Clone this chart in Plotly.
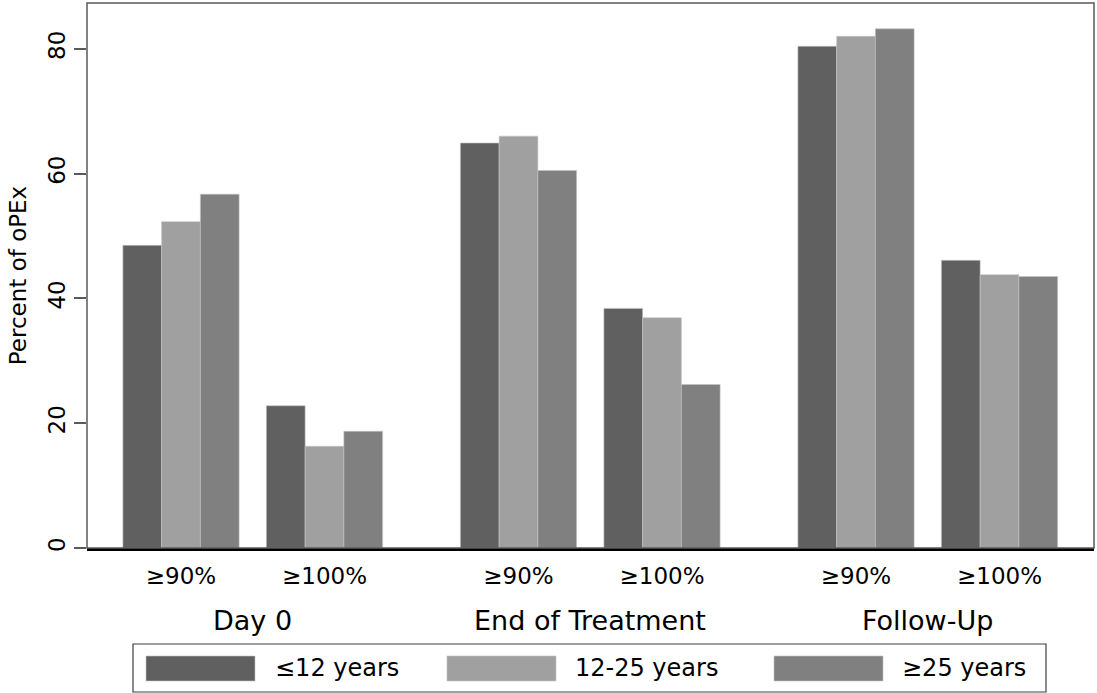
import plotly.graph_objects as go

# ---------------- data ----------------
times = ["Day 0", "End of Treatment", "Follow-Up"]
thresholds = ["≥90%", "≥100%"]
groups = ["≤12 years", "12-25 years", "≥25 years"]
le12 = [48.5, 22.8, 64.9, 38.4, 80.4, 46.1]
y12_25 = [52.3, 16.3, 66.0, 36.9, 82.0, 43.8]
ge25 = [56.7, 18.7, 60.5, 26.2, 83.2, 43.5]
y_ticks = [0, 20, 40, 60, 80]
y_title = "Percent of oPEx"

# ---------------- style / layout ----------------
colors = ["#606060", "#a0a0a0", "#808080"]
FONT = "DejaVu Sans"
CAT_STEP = 2.352          # distance between time blocks (in sub-group units)
W, H = 1097, 693
ML, MR, MT, MB = 87, 3, 3, 145
PW, PH = W - ML - MR, H - MT - MB

xpos = [ti * CAT_STEP + j for ti in range(len(times)) for j in range(len(thresholds))]
series = [le12, y12_25, ge25]

fig = go.Figure()
for name, vals, col in zip(groups, series, colors):
    fig.add_trace(go.Bar(
        x=xpos, y=vals, name=name,
        marker=dict(color=col, line=dict(color="#c4c4c4", width=0.6)),
        showlegend=False,
    ))

def px_x(p):
    return (p - ML) / PW

def px_y(p):
    return (H - MB - p) / PH

annotations = []
# outer category labels
for ti, t in enumerate(times):
    annotations.append(dict(
        x=ti * CAT_STEP + 0.5, xref="x", y=px_y(620), yref="paper",
        text=t, showarrow=False, xanchor="center", yanchor="middle",
        font=dict(family=FONT, size=27, color="#000000"),
    ))

shapes = []
# plot frame
shapes.append(dict(type="rect", xref="paper", yref="paper", x0=0, x1=1, y0=0, y1=1,
                   line=dict(color="#5a5a5a", width=1.5), layer="above"))
# legend box
shapes.append(dict(type="rect", xref="paper", yref="paper",
                   x0=px_x(133), x1=px_x(1046), y0=px_y(692), y1=px_y(644),
                   line=dict(color="#404040", width=1.2), fillcolor="white"))
sw_left = [146, 447, 774]
txt_left = [273, 573, 900]
for name, col, sl, tl in zip(groups, colors, sw_left, txt_left):
    shapes.append(dict(type="rect", xref="paper", yref="paper",
                       x0=px_x(sl), x1=px_x(sl + 109), y0=px_y(681), y1=px_y(656),
                       line=dict(color="#c4c4c4", width=0.6), fillcolor=col))
    annotations.append(dict(
        x=px_x(tl), xref="paper", y=px_y(668), yref="paper",
        text=name, showarrow=False, xanchor="left", yanchor="middle",
        font=dict(family=FONT, size=24, color="#000000"),
    ))

fig.update_layout(
    width=W, height=H,
    margin=dict(l=ML, r=MR, t=MT, b=MB),
    paper_bgcolor="white", plot_bgcolor="white",
    barmode="group", bargap=0.19, bargroupgap=0,
    font=dict(family=FONT, color="#000000"),
    shapes=shapes, annotations=annotations,
    showlegend=False,
)
fig.update_xaxes(
    range=[-0.655, -0.655 + PW / 143.5],
    tickmode="array", tickvals=xpos, ticktext=thresholds * len(times),
    ticks="", showgrid=False, zeroline=False,
    showline=True, linecolor="#000000", linewidth=2.5,
    tickfont=dict(family=FONT, size=23, color="#000000"),
    ticklabelstandoff=6,
)
fig.update_yaxes(
    range=[0, (H - MB - MT) / 6.24],
    tickmode="array", tickvals=y_ticks, ticktext=[str(v) for v in y_ticks],
    ticks="outside", ticklen=12, tickwidth=1.5, tickcolor="#5a5a5a",
    tickangle=-90, showgrid=False, zeroline=False,
    showline=False,
    tickfont=dict(family=FONT, size=23, color="#000000"),
    title=dict(text=y_title, font=dict(family=FONT, size=23, color="#000000"), standoff=10),
    automargin=False,
)

fig.write_html("out.html", config={"displayModeBar": False},
               post_script="document.body.style.margin='0';")
